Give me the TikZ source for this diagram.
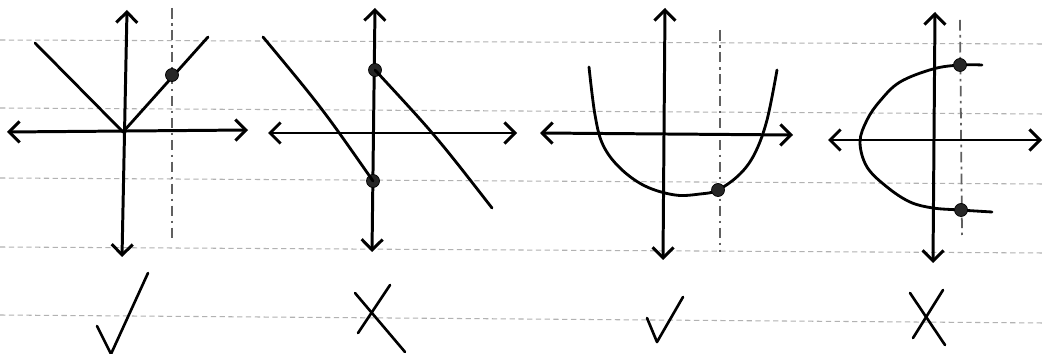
\documentclass[tikz,border=0pt]{standalone}
\usetikzlibrary{arrows.meta}
\begin{document}
\begin{tikzpicture}[x=0.02cm,y=-0.02cm,
  rule/.style={draw=gray!60,line width=0.6pt,dash pattern=on 3pt off 2pt},
  vtest/.style={draw=gray!75!black,line width=1pt,dash pattern=on 6pt off 2.5pt on 1.5pt off 2.5pt},
  axis/.style={draw=black,line width=1.7pt,{Straight Barb[length=6pt,width=12pt,line width=1.7pt]}-{Straight Barb[length=6pt,width=12pt,line width=1.7pt]}},
  graph/.style={draw=black,line width=1.6pt,line cap=round,line join=round},
  tick/.style={draw=black,line width=1.5pt,line cap=round,line join=round},
  pt/.style={circle,fill=black!85,draw=black,inner sep=0pt,minimum size=0.26cm}]
\fill[white] (0,0) rectangle (1044,354);
\useasboundingbox (0,0) rectangle (1044,354);
% ruled lines
\coordinate (r1a) at (0,40);  \coordinate (r1b) at (1044,44);
\coordinate (r2a) at (0,108); \coordinate (r2b) at (1044,114);
\coordinate (r3a) at (0,178); \coordinate (r3b) at (1044,184);
\coordinate (r4a) at (0,247); \coordinate (r4b) at (1044,253);
\coordinate (r5a) at (0,315); \coordinate (r5b) at (1044,323);
\foreach \i in {1,...,5} \draw[rule] (r\i a) -- (r\i b);

% ---------- Graph 1 ----------
\coordinate (g1yt) at (127,10); \coordinate (g1yb) at (122,257);
\coordinate (g1xl) at (7,132);  \coordinate (g1xr) at (248,130);
\coordinate (g1vt) at (172,8);  \coordinate (g1vb) at (172,238);
\draw[vtest] (g1vt) -- (g1vb);
\draw[axis] (g1xl) -- (g1xr);
\draw[axis] (g1yt) -- (g1yb);
\coordinate (g1a) at (35,43); \coordinate (g1o) at (123,132); \coordinate (g1b) at (208,37);
\draw[graph] (g1a) -- (g1o) -- (g1b);
\node[pt] (g1p) at (172,75) {};
\coordinate (c1l) at (97,326); \coordinate (c1m) at (111,354); \coordinate (c1t) at (148,273);
\draw[tick] (c1l) -- (c1m) -- (c1t);

% ---------- Graph 2 ----------
\coordinate (g2yt) at (375,8);  \coordinate (g2yb) at (372,252);
\coordinate (g2xl) at (268,133); \coordinate (g2xr) at (517,133);
\draw[axis] (g2xl) -- (g2xr);
\draw[axis] (g2yt) -- (g2yb);
\node[pt] (g2p1) at (375,70) {};
\node[pt] (g2p2) at (373,181) {};
\coordinate (g2a) at (263,37); \coordinate (g2am) at (322,108);
\coordinate (g2b) at (492,208); \coordinate (g2bm) at (436,136);
\draw[graph] (g2a) .. controls (g2am) .. (g2p2.center);
\draw[graph] (g2p1.center) .. controls (g2bm) .. (g2b);
\coordinate (x2a) at (355,293); \coordinate (x2b) at (405,352);
\coordinate (x2c) at (390,285); \coordinate (x2d) at (358,333);
\draw[tick] (x2a) -- (x2b);
\draw[tick] (x2c) -- (x2d);

% ---------- Graph 3 ----------
\coordinate (g3yt) at (665,8);  \coordinate (g3yb) at (663,260);
\coordinate (g3xl) at (540,133); \coordinate (g3xr) at (793,135);
\coordinate (g3vt) at (720,30);  \coordinate (g3vb) at (720,252);
\draw[vtest] (g3vt) -- (g3vb);
\draw[axis] (g3xl) -- (g3xr);
\draw[axis] (g3yt) -- (g3yb);
\draw[graph] plot[smooth,tension=0.6] coordinates {(589,67) (595,115) (603,145) (620,168) (645,186) (675,195) (700,194) (718,190) (740,174) (755,153) (767,120) (777,70)};
\node[pt] (g3p) at (718,190) {};
\coordinate (c3l) at (647,318); \coordinate (c3m) at (657,342); \coordinate (c3t) at (683,297);
\draw[tick] (c3l) -- (c3m) -- (c3t);

% ---------- Graph 4 ----------
\coordinate (g4yt) at (935,12);  \coordinate (g4yb) at (933,263);
\coordinate (g4xl) at (828,140); \coordinate (g4xr) at (1042,140);
\coordinate (g4vt) at (960,20);  \coordinate (g4vb) at (962,235);
\draw[vtest] (g4vt) -- (g4vb);
\draw[axis] (g4xl) -- (g4xr);
\draw[axis] (g4yt) -- (g4yb);
\draw[graph] plot[smooth,tension=0.6] coordinates {(982,65) (960,65) (933,69) (900,82) (880,101) (867,120) (860,142) (867,167) (887,187) (910,202) (933,208) (960,210) (992,212)};
\node[pt] (g4p1) at (960,65) {};
\node[pt] (g4p2) at (961,210) {};
\coordinate (x4a) at (910,293); \coordinate (x4b) at (945,345);
\coordinate (x4c) at (943,290); \coordinate (x4d) at (913,338);
\draw[tick] (x4a) -- (x4b);
\draw[tick] (x4c) -- (x4d);
\end{tikzpicture}
\end{document}
